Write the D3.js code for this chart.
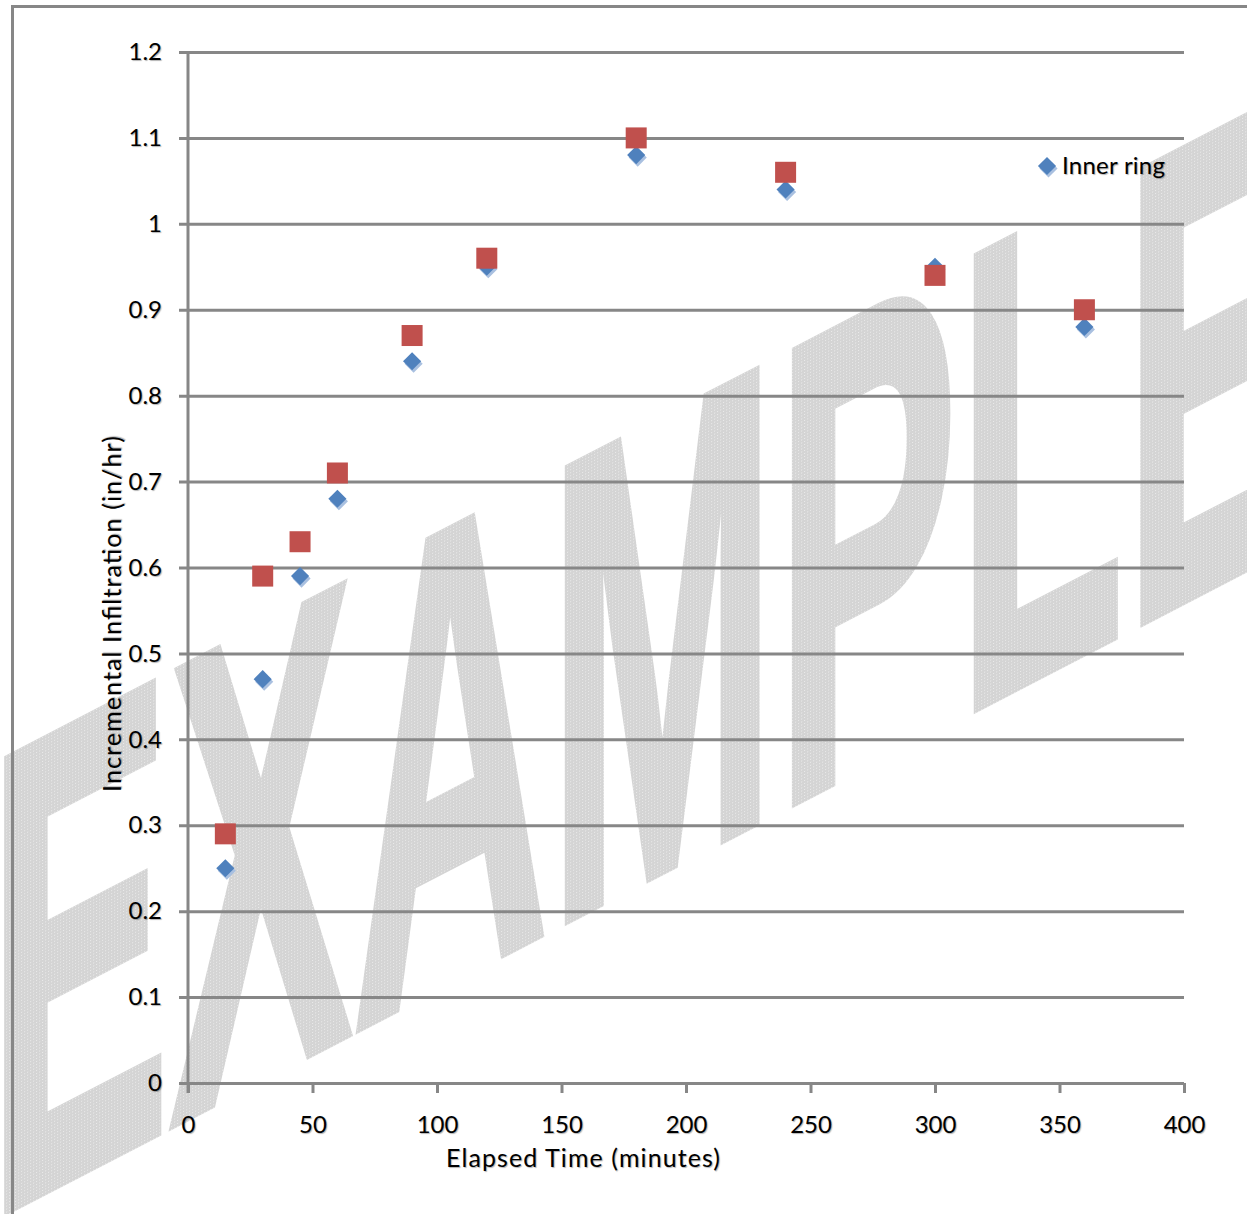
<!DOCTYPE html>
<html>
<head>
<meta charset="utf-8">
<script src="https://cdn.jsdelivr.net/npm/d3@7"></script>
<style>
  body { margin: 0; background: #fff; }
  svg text { font-family: Lato, "Open Sans", sans-serif; fill: #000; }
  svg text.lbl { text-shadow: 1px 1px 1px rgba(0,0,0,0.3); }
</style>
</head>
<body>
<div id="chart"></div>
<script>
// infiltration test readings
const minutes = [15, 30, 45, 60, 90, 120, 180, 240, 300, 360]
const innerRing = [0.25, 0.47, 0.59, 0.68, 0.84, 0.95, 1.08, 1.04, 0.95, 0.88]
const outerRing = [0.29, 0.59, 0.63, 0.71, 0.87, 0.96, 1.10, 1.06, 0.94, 0.90]

const xTicks = [0, 50, 100, 150, 200, 250, 300, 350, 400]
const yTicks = [0, 0.1, 0.2, 0.3, 0.4, 0.5, 0.6, 0.7, 0.8, 0.9, 1.0, 1.1, 1.2]
const yTickLabels = ['0', '0.1', '0.2', '0.3', '0.4', '0.5', '0.6', '0.7', '0.8', '0.9', '1', '1.1', '1.2']

const W = 1247, H = 1214
const margin = { top: 52, right: 63, bottom: 131, left: 188 }
const width = W - margin.left - margin.right
const height = H - margin.top - margin.bottom

const gridColor = '#878787'
const blue = '#4f81bd', blueShade = '#a9c0e0', red = '#c0504d'

const svg = d3.select('#chart')
  .append('svg')
    .attr('width', W)
    .attr('height', H)

// dotted fill for the watermark
const pat = svg.append('defs').append('pattern')
    .attr('id', 'dots')
    .attr('patternUnits', 'userSpaceOnUse')
    .attr('width', 3).attr('height', 3)
pat.append('rect').attr('width', 3).attr('height', 3).attr('fill', '#d4d4d4')
pat.append('rect').attr('width', 1).attr('height', 1).attr('fill', '#ececec')

// watermark
svg.append('text')
    .attr('transform', 'skewY(-27.4)')
    .attr('x', -12)
    .attr('y', 1214)
    .attr('textLength', 1318)
    .attr('lengthAdjust', 'spacingAndGlyphs')
    .style('font-family', '"Liberation Sans", Arial, sans-serif')
    .style('font-weight', 'bold')
    .style('font-size', '655px')
    .style('fill', 'url(#dots)')
    .style('stroke', 'url(#dots)')
    .style('stroke-width', 10)
    .style('stroke-linejoin', 'miter')
    .text('EXAMPLE')

// outer frame (right/bottom edges fall outside the picture)
svg.append('path')
    .attr('d', `M12.5,${H + 5}V6.5H${W + 5}`)
    .attr('fill', 'none')
    .attr('stroke', gridColor)
    .attr('stroke-width', 3)

const g = svg.append('g')
    .attr('transform', `translate(${margin.left},${margin.top})`)

const x = d3.scaleLinear().domain([0, 400]).range([0, width])
const y = d3.scaleLinear().domain([0, 1.2]).range([height, 0])

// horizontal grid + y labels (grid starts 9px left of the axis)
const yAxis = d3.axisLeft(y)
    .tickValues(yTicks)
    .tickFormat((d, i) => yTickLabels[i])
    .tickSizeInner(-(width + 9))
    .tickSizeOuter(0)
    .tickPadding(17)

g.append('g')
    .attr('transform', 'translate(-9,0)')
    .call(yAxis)
    .call(a => a.select('.domain').remove())
    .call(a => a.selectAll('line').attr('stroke', gridColor).attr('stroke-width', 3))
    .call(a => a.selectAll('text').attr('class', 'lbl').style('font-size', '24px'))

// x ticks + labels
const xAxis = d3.axisBottom(x)
    .tickValues(xTicks)
    .tickSizeInner(10)
    .tickSizeOuter(0)
    .tickPadding(23)

g.append('g')
    .attr('transform', `translate(0,${height})`)
    .call(xAxis)
    .call(a => a.select('.domain').remove())
    .call(a => a.selectAll('line').attr('stroke', gridColor).attr('stroke-width', 3))
    .call(a => a.selectAll('text').attr('class', 'lbl').style('font-size', '24px'))

// vertical axis line
g.append('line')
    .attr('x1', 0).attr('x2', 0)
    .attr('y1', 0).attr('y2', height + 10)
    .attr('stroke', gridColor)
    .attr('stroke-width', 3)

// axis titles
svg.append('text')
    .attr('class', 'lbl')
    .attr('x', 583)
    .attr('y', 1167)
    .attr('text-anchor', 'middle')
    .attr('textLength', 274)
    .style('font-size', '25px')
    .text('Elapsed Time (minutes)')

svg.append('text')
    .attr('class', 'lbl')
    .attr('transform', 'translate(121,614) rotate(-90)')
    .attr('text-anchor', 'middle')
    .attr('textLength', 356)
    .style('font-size', '25px')
    .text('Incremental Infiltration (in/hr)')

// markers
const diamond = d3.symbol().type(d3.symbolDiamond2).size(210)
const inner = minutes.map((m, i) => ({ m, v: innerRing[i] }))
const outer = minutes.map((m, i) => ({ m, v: outerRing[i] }))

g.selectAll('.inner-shade')
  .data(inner)
  .join('path')
    .attr('class', 'inner-shade')
    .attr('d', diamond)
    .attr('transform', d => `translate(${x(d.m) + 1.5},${y(d.v) + 2.5})`)
    .attr('fill', blueShade)

g.selectAll('.inner')
  .data(inner)
  .join('path')
    .attr('class', 'inner')
    .attr('d', diamond)
    .attr('transform', d => `translate(${x(d.m)},${y(d.v)})`)
    .attr('fill', blue)

const sq = 21
g.selectAll('.outer')
  .data(outer)
  .join('rect')
    .attr('class', 'outer')
    .attr('x', d => x(d.m) - sq / 2)
    .attr('y', d => y(d.v) - sq / 2)
    .attr('width', sq)
    .attr('height', sq)
    .attr('fill', red)

// legend (only the first entry is visible)
const legend = svg.append('g').attr('transform', 'translate(1047,166)')
legend.append('path').attr('d', diamond).attr('transform', 'translate(1.5,2.5)').attr('fill', blueShade)
legend.append('path').attr('d', diamond).attr('fill', blue)
legend.append('text')
    .attr('class', 'lbl')
    .attr('x', 15)
    .attr('dy', '0.35em')
    .attr('textLength', 103)
    .style('font-size', '24px')
    .text('Inner ring')
</script>
</body>
</html>
